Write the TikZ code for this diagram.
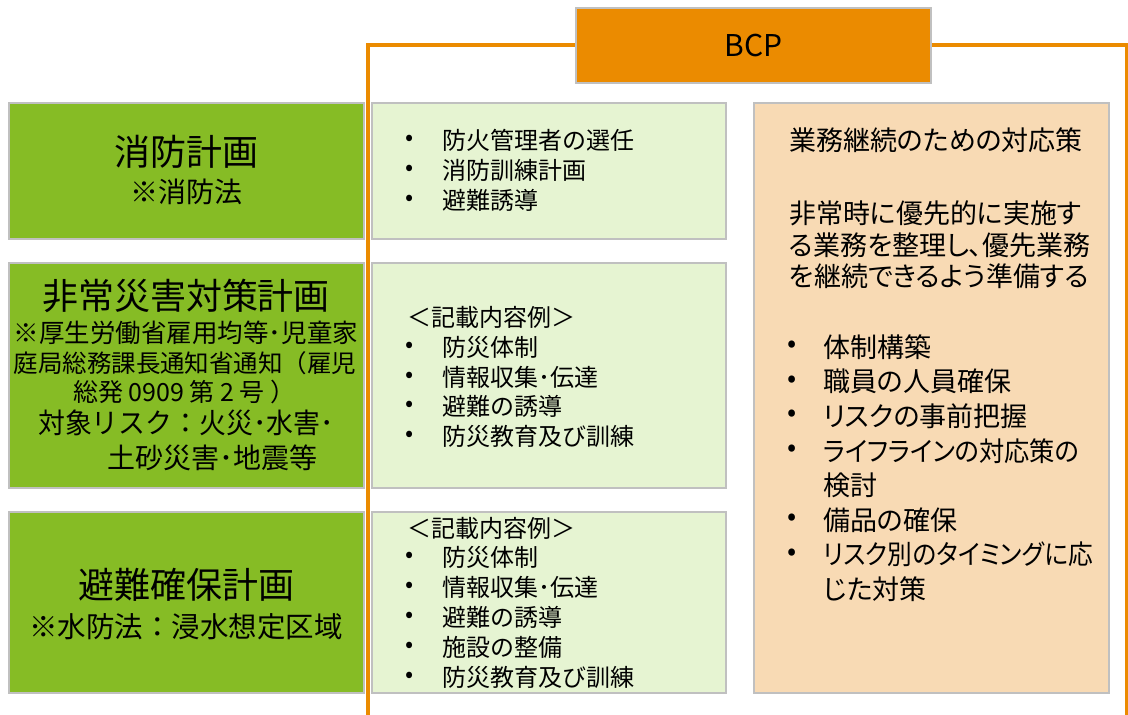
\documentclass[tikz,border=0pt]{standalone}
\usepackage{fontspec}
\setmainfont{Noto Sans CJK JP}
\newfontfamily\jpp[RawFeature=+palt]{Noto Sans CJK JP}
\definecolor{bcporange}{RGB}{235,139,0}
\definecolor{plangreen}{RGB}{134,188,37}
\definecolor{lightgreen}{RGB}{230,244,210}
\definecolor{peach}{RGB}{248,218,180}
\definecolor{boxgray}{RGB}{192,192,192}
\begin{document}
\begin{tikzpicture}[x=1pt,y=-1pt,
  box/.style={draw=boxgray, line width=1.5pt, anchor=north west, inner sep=0pt},
  gbox/.style={box, fill=plangreen, minimum width=355pt},
  lbox/.style={box, fill=lightgreen, minimum width=354pt},
  txt/.style={inner sep=0pt, text=black},
  big/.style={txt, font=\fontsize{36}{40}\selectfont},
  sub/.style={txt, font=\fontsize{28}{32}\selectfont},
  small/.style={txt, font=\fontsize{25}{28}\selectfont},
  item/.style={txt, anchor=west, font=\fontsize{24}{28}\selectfont},
  bul/.style={txt, font=\fontsize{24}{28}\selectfont},
  ptxt/.style={txt, anchor=west, font=\jpp\fontsize{27}{30}\selectfont},
  pbul/.style={txt, font=\fontsize{27}{30}\selectfont},
  frame/.style={draw=bcporange, line width=3.5pt}
]
\useasboundingbox (0,0) rectangle (1128,715);

% orange frame
\coordinate (fbl) at (368,720);
\coordinate (ftl) at (368,45);
\coordinate (ftr) at (1127,45);
\coordinate (fbr) at (1127,720);
\draw[frame] (fbl) -- (ftl) -- (ftr) -- (fbr);

% BCP box
\node[box, fill=bcporange, minimum width=355pt, minimum height=75pt] (bcp) at (575,7) {};
\node[txt, font=\fontsize{30}{34}\selectfont] (bcpt) at (bcp.center) {BCP};

% left green boxes
\node[gbox, minimum height=136pt] (g1) at (8,102) {};
\node[gbox, minimum height=225pt] (g2) at (8,262) {};
\node[gbox, minimum height=181pt] (g3) at (8,511) {};

% light green boxes
\node[lbox, minimum height=136pt] (l1) at (371,102) {};
\node[lbox, minimum height=225pt] (l2) at (371,262) {};
\node[lbox, minimum height=181pt] (l3) at (371,511) {};

% peach box
\node[box, fill=peach, minimum width=355pt, minimum height=590pt] (p) at (753,102) {};

% green box 1 text
\node[big] (g1a) at (186,152) {消防計画};
\node[sub] (g1b) at (186,192) {※消防法};

% green box 2 text
\node[big] (g2a) at (186,296) {非常災害対策計画};
\node[small, font=\fontsize{25.5}{28}\selectfont] (g2b) at (186,333) {※厚生労働省雇用均等･児童家};
\node[small, font=\fontsize{24.5}{28}\selectfont] (g2c) at (185,363) {庭局総務課長通知省通知（雇児};
\node[small, anchor=west] (g2d) at (73,392) {総発 0909 第 2 号 ）};
\node[sub, anchor=west] (g2e) at (38,423) {\scalebox{0.96}[1]{対象リスク：火災･水害･}};
\node[sub, anchor=west] (g2f) at (107,458) {土砂災害･地震等};

% green box 3 text
\node[big] (g3a) at (186,585) {避難確保計画};
\node[sub, font=\fontsize{28.5}{32}\selectfont] (g3b) at (186,627) {※水防法：浸水想定区域};

% light green box 1 items
\foreach \n/\y/\t in {1/140/防火管理者の選任, 2/170.5/消防訓練計画, 3/200/避難誘導}{
  \node[bul] (b1\n) at (410,\y) {•};
  \node[item] (i1\n) at (442,\y) {\t};
}

% light green box 2 items
\node[item] (h2) at (407,317) {＜記載内容例＞};
\foreach \n/\y/\t in {1/347/防災体制, 2/377/情報収集･伝達, 3/406.5/避難の誘導, 4/436/防災教育及び訓練}{
  \node[bul] (b2\n) at (410,\y) {•};
  \node[item] (i2\n) at (442,\y) {\t};
}

% light green box 3 items
\node[item] (h3) at (407,528) {＜記載内容例＞};
\foreach \n/\y/\t in {1/557/防災体制, 2/587/情報収集･伝達, 3/617/避難の誘導, 4/647/施設の整備, 5/677/防災教育及び訓練}{
  \node[bul] (b3\n) at (410,\y) {•};
  \node[item] (i3\n) at (442,\y) {\t};
}

% peach text
\node[ptxt] (p0) at (789,140) {業務継続のための対応策};
\node[ptxt] (p1) at (789,213.5) {非常時に優先的に実施す};
\node[ptxt] (p2) at (789,245) {る業務を整理し、優先業務};
\node[ptxt] (p3) at (789,276.5) {を継続できるよう準備する};

\foreach \n/\y/\t in {1/347/体制構築, 2/381.6/職員の人員確保, 3/416.2/リスクの事前把握, 6/520/備品の確保}{
  \node[pbul] (pb\n) at (792,\y) {•};
  \node[ptxt] (pi\n) at (823,\y) {\t};
}
\node[pbul] (pb4) at (792,450.8) {•};
\node[ptxt] (pi4) at (823,450.8) {\scalebox{0.935}[1]{ライフラインの対応策の}};
\node[ptxt] (pi5) at (823,485.4) {検討};
\node[pbul] (pb7) at (792,554.6) {•};
\node[ptxt] (pi7) at (823,554.6) {\scalebox{0.915}[1]{リスク別のタイミングに応}};
\node[ptxt] (pi8) at (823,589.2) {じた対策};
\end{tikzpicture}
\end{document}
